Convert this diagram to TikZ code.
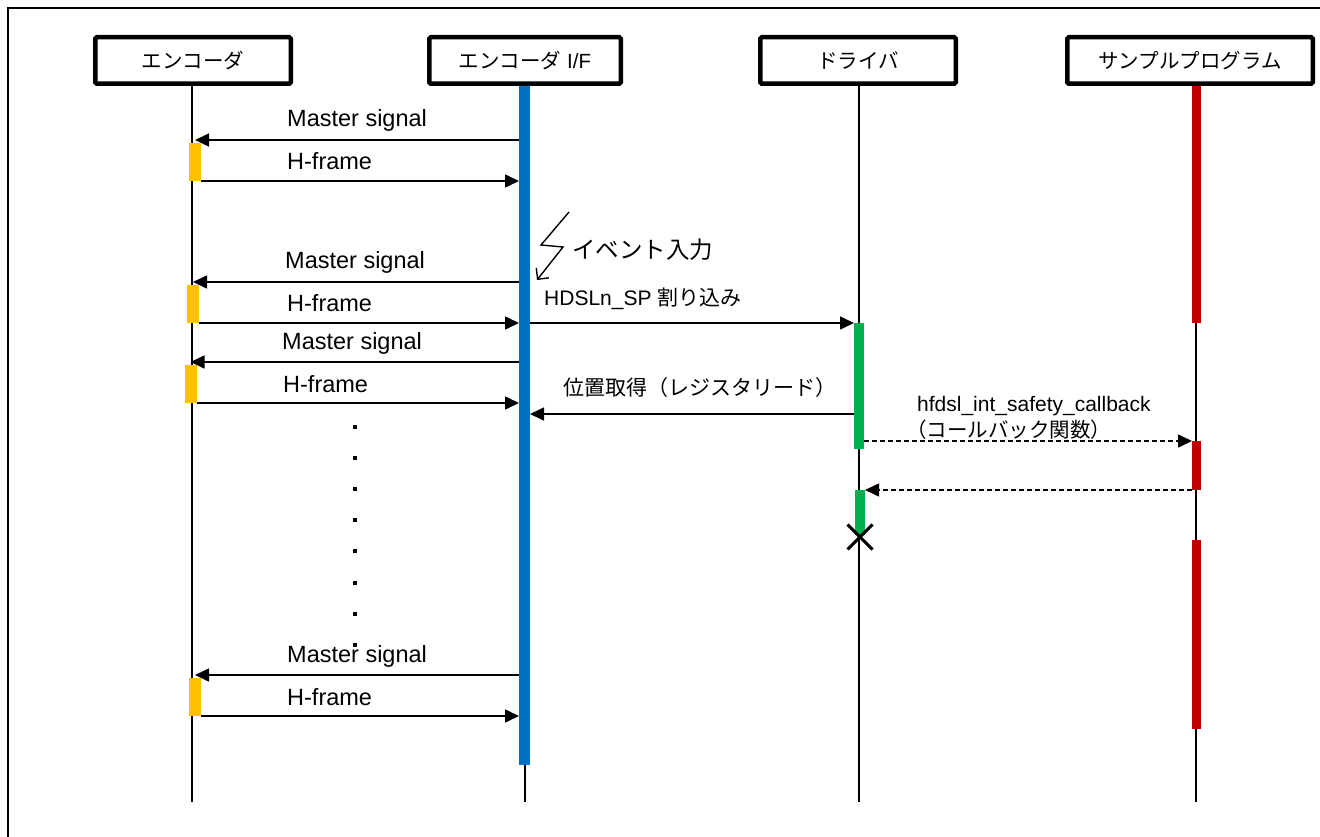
\documentclass[tikz,border=0pt]{standalone}
\usepackage{fontspec}
\setmainfont{Liberation Sans}
\newfontfamily\jp{Noto Sans CJK JP}
\usepackage{xcolor}
\usepackage{tikz}
\usetikzlibrary{arrows.meta}
\usetikzlibrary{positioning}
\usetikzlibrary{shapes.misc}
\definecolor{ifblue}{HTML}{0070C0}
\definecolor{encyellow}{HTML}{FFC000}
\definecolor{drvgreen}{HTML}{00B050}
\definecolor{appred}{HTML}{C00000}

\begin{document}
\begin{tikzpicture}[x=1pt,y=-1pt,
	head/.style={draw,line width=4.5pt,rounded corners=1.5pt,minimum height=46.5pt,inner sep=0pt,font=\fontsize{20.5}{23}\selectfont},
	life/.style={line width=1.6pt},
	bar/.style={fill=#1,inner sep=0pt,outer sep=0pt,anchor=north},
	msg/.style={-{Triangle[length=14pt,width=13pt]},line width=1.6pt},
	cb/.style={msg,dash pattern=on 5pt off 3pt},
	lbl/.style={inner sep=0pt,font=\fontsize{23.5}{27}\selectfont},
	sml/.style={inner sep=0pt,font=\fontsize{21}{25}\selectfont}]
	\useasboundingbox (0,0) rectangle (1320,837);
	\draw[line width=2.4pt] (8,8) rectangle (1335,850);

	\node[head,minimum width=195.5pt] (enc) at (193,60.5) {\jp エンコーダ};
	\node[head,minimum width=191.5pt] (encif) at (525,60.5) {{\jp エンコーダ} I/F};
	\node[head,minimum width=195.5pt] (drv) at (858,60.5) {\jp ドライバ};
	\node[head,minimum width=245.5pt] (app) at (1190,60.5) {\jp サンプルプログラム};

	\draw[life] (192,86) -- (192,802);
	\draw[life] (525,86) -- (525,802);
	\draw[life] (859,86) -- (859,802);
	\draw[life] (1196,86) -- (1196,802);

	\node[bar=ifblue,minimum width=11pt,minimum height=679pt] (ifbar) at (524.5,86) {};
	\node[bar=encyellow,minimum width=12pt,minimum height=38pt] (y1) at (195,143) {};
	\node[bar=encyellow,minimum width=12pt,minimum height=38pt] (y2) at (193,285) {};
	\node[bar=encyellow,minimum width=12pt,minimum height=38pt] (y3) at (190.5,365) {};
	\node[bar=encyellow,minimum width=12pt,minimum height=38pt] (y4) at (195,678) {};
	\node[bar=drvgreen,minimum width=10pt,minimum height=126pt] (g1) at (859,323) {};
	\node[bar=drvgreen,minimum width=10pt,minimum height=45pt] (g2) at (860,490) {};
	\node[bar=appred,minimum width=9pt,minimum height=237pt] (r1) at (1196.5,86) {};
	\node[bar=appred,minimum width=9pt,minimum height=49pt] (r2) at (1196.5,441) {};
	\node[bar=appred,minimum width=9pt,minimum height=189pt] (r3) at (1196.5,540) {};

	\draw[msg] (ifbar.west |- 0,140) -- (y1.north |- 0,140);
	\node[lbl,anchor=base west] (ms1) at (287,127) {Master signal};
	\draw[msg] (y1.south east) -- (ifbar.west |- y1.south);
	\node[lbl,anchor=base west] (hf1) at (287,170) {H-frame};

	\draw[line width=1.4pt,-{Straight Barb[length=8pt,width=16pt]}] (569,212) -- (541,245) -- (563,247) -- (537,280);
	\node[lbl,anchor=west] (evt) at (572,250) {\jp イベント入力};

	\draw[msg] (ifbar.west |- 0,282) -- (y2.north |- 0,282);
	\node[lbl,anchor=base west] (ms2) at (285,269) {Master signal};
	\draw[msg] (y2.south east) -- (ifbar.west |- y2.south);
	\node[lbl,anchor=base west] (hf2) at (287,311) {H-frame};

	\draw[msg] (ifbar.east |- g1.north) -- (g1.north west);
	\node[sml,anchor=base west] (irq) at (544,305) {HDSLn\_SP {\jp 割り込み}};

	\draw[msg] (ifbar.west |- 0,362) -- (y3.north |- 0,362);
	\node[lbl,anchor=base west] (ms3) at (282,349) {Master signal};
	\draw[msg] (y3.south east) -- (ifbar.west |- y3.south);
	\node[lbl,anchor=base west] (hf3) at (283,392) {H-frame};

	\draw[msg] (g1.west |- 0,414) -- (ifbar.east |- 0,414);
	\node[sml,anchor=west] (pos) at (563,388) {\jp 位置取得（レジスタリード）};

	\draw[cb] (g1.east |- r2.north) -- (r2.north west);
	\node[sml,anchor=base west] (cbname) at (917,411) {hfdsl\_int\_safety\_callback};
	\node[anchor=west,inner sep=0pt,font=\fontsize{20.5}{24}\selectfont] (cbnote) at (906,430) {\jp （コールバック関数）};
	\draw[cb] (r2.south west) -- (g2.north east);

	\node[cross out,draw,line width=3pt,minimum size=22pt,inner sep=0pt] (stop) at (860,537) {};

	\foreach \i in {0,...,7}
		\fill (353,425+31.1*\i) rectangle ++(4,4);

	\draw[msg] (ifbar.west |- 0,675) -- (y4.north |- 0,675);
	\node[lbl,anchor=base west] (ms4) at (287,662) {Master signal};
	\draw[msg] (y4.south east) -- (ifbar.west |- y4.south);
	\node[lbl,anchor=base west] (hf4) at (287,705) {H-frame};
\end{tikzpicture}
\end{document}
